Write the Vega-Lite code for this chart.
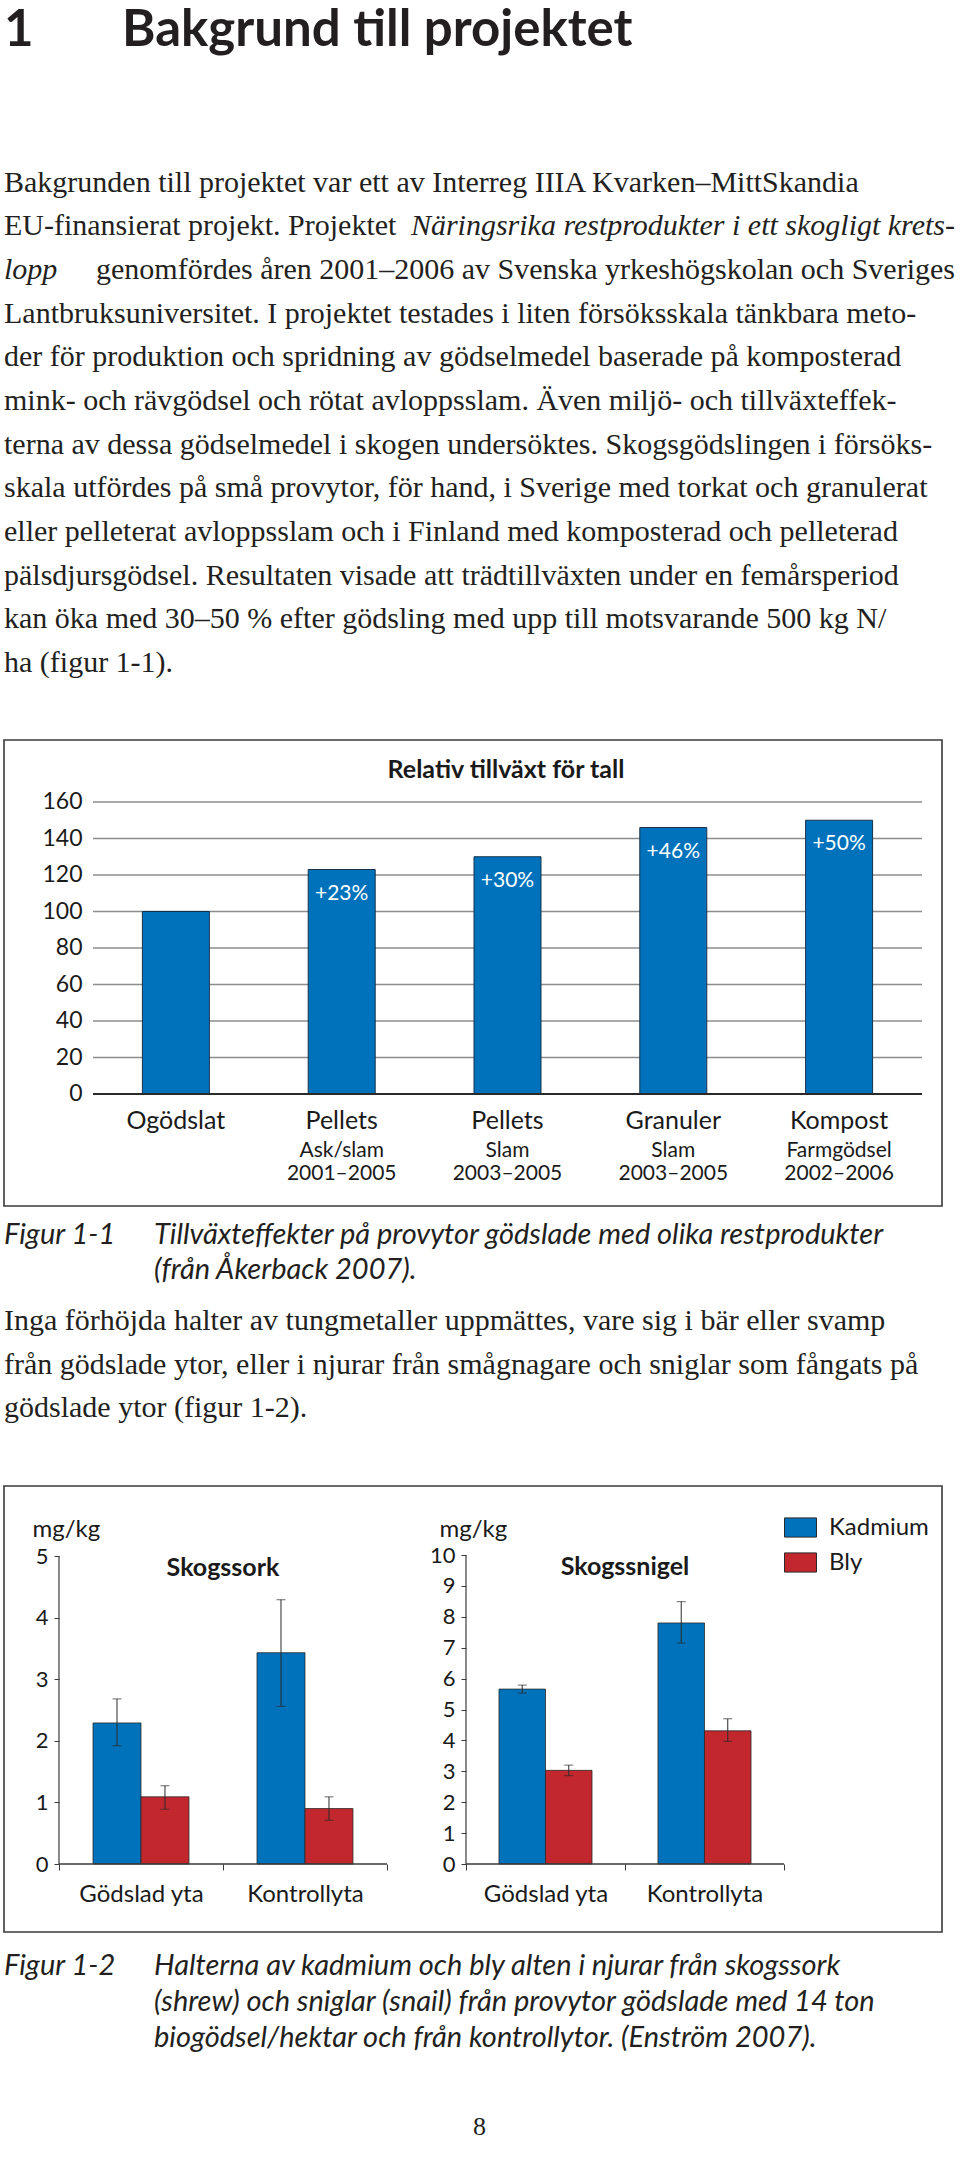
{
  "$schema": "https://vega.github.io/schema/vega-lite/v6.json",
  "background": "#ffffff",
  "padding": {"left": 3, "top": 0, "right": 0, "bottom": 0},
  "spacing": 0,
  "config": {
    "view": {"stroke": null},
    "text": {"font": "Lato"},
    "axis": {"labelFont": "Lato", "titleFont": "Lato"},
    "legend": {"labelFont": "Lato"},
    "title": {"font": "Lato"}
  },
  "vconcat": [
    {
      "width": 951,
      "height": 92,
      "data": {"values": [
        {"del": 1, "text": "1"},
        {"del": 2, "text": "Bakgrund till projektet"}
      ]},
      "mark": {"type": "text", "align": "left", "baseline": "alphabetic", "font": "Lato", "fontWeight": "bold", "fontSize": 51, "color": "#231f20"},
      "encoding": {
        "x": {"field": "del", "type": "quantitative", "scale": {"domain": [1, 9.059], "nice": false, "zero": false}, "axis": null},
        "text": {"field": "text"}
      }
    },
    {
      "width": 951,
      "height": 647,
      "data": {"values": [
        {"rad": 1, "del": 1, "typ": "brödtext", "text": "Bakgrunden till projektet var ett av Interreg IIIA Kvarken–MittSkandia"},
        {"rad": 2, "del": 1, "typ": "brödtext", "text": "EU-finansierat projekt. Projektet"},
        {"rad": 2, "del": 2, "typ": "projektnamn", "text": "Näringsrika restprodukter i ett skogligt krets-"},
        {"rad": 3, "del": 1, "typ": "projektnamn", "text": "lopp"},
        {"rad": 3, "del": 2, "typ": "brödtext", "text": "genomfördes åren 2001–2006 av Svenska yrkeshögskolan och Sveriges"},
        {"rad": 4, "del": 1, "typ": "brödtext", "text": "Lantbruksuniversitet. I projektet testades i liten försöksskala tänkbara meto-"},
        {"rad": 5, "del": 1, "typ": "brödtext", "text": "der för produktion och spridning av gödselmedel baserade på komposterad"},
        {"rad": 6, "del": 1, "typ": "brödtext", "text": "mink- och rävgödsel och rötat avloppsslam. Även miljö- och tillväxteffek-"},
        {"rad": 7, "del": 1, "typ": "brödtext", "text": "terna av dessa gödselmedel i skogen undersöktes. Skogsgödslingen i försöks-"},
        {"rad": 8, "del": 1, "typ": "brödtext", "text": "skala utfördes på små provytor, för hand, i Sverige med torkat och granulerat"},
        {"rad": 9, "del": 1, "typ": "brödtext", "text": "eller pelleterat avloppsslam och i Finland med komposterad och pelleterad"},
        {"rad": 10, "del": 1, "typ": "brödtext", "text": "pälsdjursgödsel. Resultaten visade att trädtillväxten under en femårsperiod"},
        {"rad": 11, "del": 1, "typ": "brödtext", "text": "kan öka med 30–50 % efter gödsling med upp till motsvarande 500 kg N/"},
        {"rad": 12, "del": 1, "typ": "brödtext", "text": "ha (figur 1-1)."}
      ]},
      "encoding": {
        "x": {"field": "del", "type": "quantitative", "scale": {"domain": [1, 2], "nice": false, "zero": false}, "axis": null},
        "y": {"field": "rad", "type": "quantitative", "scale": {"domain": [-1.277, 13.529], "reverse": true, "nice": false, "zero": false}, "axis": null},
        "text": {"field": "text"}
      },
      "layer": [
        {"transform": [{"filter": "datum.del == 1 && datum.typ == 'brödtext'"}], "mark": {"type": "text", "align": "left", "baseline": "alphabetic", "font": "Liberation Serif", "fontSize": 30, "color": "#231f20"}},
        {"transform": [{"filter": "datum.del == 1 && datum.typ == 'projektnamn'"}], "mark": {"type": "text", "align": "left", "baseline": "alphabetic", "font": "Liberation Serif", "fontStyle": "italic", "fontSize": 30, "color": "#231f20"}},
        {"transform": [{"filter": "datum.del == 2 && datum.typ == 'brödtext'"}], "mark": {"type": "text", "align": "right", "baseline": "alphabetic", "font": "Liberation Serif", "fontSize": 30, "color": "#231f20"}},
        {"transform": [{"filter": "datum.del == 2 && datum.typ == 'projektnamn'"}], "mark": {"type": "text", "align": "right", "baseline": "alphabetic", "font": "Liberation Serif", "fontStyle": "italic", "fontSize": 30, "color": "#231f20"}}
      ]
    },
    {
      "width": 938,
      "height": 466,
      "view": {"stroke": "#3a3a3a", "strokeWidth": 1.6},
      "title": {"text": "Relativ tillväxt för tall", "font": "Lato", "fontWeight": "bold", "fontSize": 25, "color": "#1a1a1a", "anchor": "middle", "offset": -55, "baseline": "middle", "dx": 33},
      "data": {"values": [
        {"id": "Ogödslat", "namn": "Ogödslat", "tillväxt": 100},
        {"id": "Pellets Ask/slam", "namn": "Pellets", "material": "Ask/slam", "period": "2001–2005", "tillväxt": 123, "etikett": "+23%"},
        {"id": "Pellets Slam", "namn": "Pellets", "material": "Slam", "period": "2003–2005", "tillväxt": 130, "etikett": "+30%"},
        {"id": "Granuler Slam", "namn": "Granuler", "material": "Slam", "period": "2003–2005", "tillväxt": 146, "etikett": "+46%"},
        {"id": "Kompost Farmgödsel", "namn": "Kompost", "material": "Farmgödsel", "period": "2002–2006", "tillväxt": 150, "etikett": "+50%"}
      ]},
      "layer": [
        {
          "data": {"values": [{"v": 20}, {"v": 40}, {"v": 60}, {"v": 80}, {"v": 100}, {"v": 120}, {"v": 140}, {"v": 160}]},
          "mark": {"type": "rule", "color": "#8c8c8c", "strokeWidth": 1.3},
          "encoding": {
            "y": {"field": "v", "type": "quantitative", "scale": {"domain": [-61.37, 193.97], "nice": false, "zero": false}},
            "x": {"datum": "Ogödslat", "bandPosition": 0, "axis": null},
            "x2": {"datum": "Kompost Farmgödsel", "bandPosition": 1}
          }
        },
        {
          "mark": {"type": "bar", "width": {"band": 0.404}, "color": "#0072BC", "stroke": "#16324a", "strokeWidth": 1},
          "encoding": {
            "x": {"field": "id", "type": "nominal", "sort": null,
              "scale": {"type": "band", "domain": ["Ogödslat", "Pellets Ask/slam", "Pellets Slam", "Granuler Slam", "Kompost Farmgödsel"], "paddingInner": 0, "paddingOuter": 0.3287, "align": 0.8165},
              "axis": null},
            "y": {"field": "tillväxt", "type": "quantitative", "scale": {"domain": [-61.37, 193.97], "nice": false, "zero": false},
              "axis": {"orient": "left", "offset": -89, "values": [0, 20, 40, 60, 80, 100, 120, 140, 160], "domain": false, "ticks": false, "grid": false, "labelFont": "Lato", "labelFontSize": 23, "labelColor": "#1a1a1a", "labelPadding": 11, "title": null}},
            "y2": {"datum": 0}
          }
        },
        {
          "data": {"values": [{}]},
          "mark": {"type": "rule", "color": "#2a2a2a", "strokeWidth": 2},
          "encoding": {
            "y": {"datum": 0},
            "x": {"datum": "Ogödslat", "bandPosition": 0, "axis": null},
            "x2": {"datum": "Kompost Farmgödsel", "bandPosition": 1}
          }
        },
        {
          "transform": [{"filter": "isValid(datum.etikett)"}],
          "mark": {"type": "text", "color": "#ffffff", "font": "Lato", "fontSize": 21, "baseline": "middle", "dy": 24},
          "encoding": {
            "x": {"field": "id", "type": "nominal", "axis": null},
            "y": {"field": "tillväxt", "type": "quantitative"},
            "text": {"field": "etikett"}
          }
        },
        {
          "mark": {"type": "text", "color": "#1a1a1a", "font": "Lato", "fontSize": 25, "baseline": "middle", "dy": 27},
          "encoding": {
            "x": {"field": "id", "type": "nominal", "axis": null},
            "y": {"datum": 0},
            "text": {"field": "namn"}
          }
        },
        {
          "transform": [{"filter": "isValid(datum.material)"}],
          "mark": {"type": "text", "color": "#1a1a1a", "font": "Lato", "fontSize": 21, "baseline": "middle", "dy": 57},
          "encoding": {
            "x": {"field": "id", "type": "nominal", "axis": null},
            "y": {"datum": 0},
            "text": {"field": "material"}
          }
        },
        {
          "transform": [{"filter": "isValid(datum.period)"}],
          "mark": {"type": "text", "color": "#1a1a1a", "font": "Lato", "fontSize": 21, "baseline": "middle", "dy": 80},
          "encoding": {
            "x": {"field": "id", "type": "nominal", "axis": null},
            "y": {"datum": 0},
            "text": {"field": "period"}
          }
        }
      ]
    },
    {
      "width": 951,
      "height": 85,
      "data": {"values": [
        {"rad": 1, "del": 1, "text": "Figur 1-1"},
        {"rad": 1, "del": 2, "text": "Tillväxteffekter på provytor gödslade med olika restprodukter"},
        {"rad": 2, "del": 2, "text": "(från Åkerback 2007)."}
      ]},
      "mark": {"type": "text", "align": "left", "baseline": "alphabetic", "font": "Lato", "fontStyle": "italic", "fontSize": 29, "color": "#231f20"},
      "encoding": {
        "x": {"field": "del", "type": "quantitative", "scale": {"domain": [1, 7.34], "nice": false, "zero": false}, "axis": null},
        "y": {"field": "rad", "type": "quantitative", "scale": {"domain": [-0.057, 2.372], "reverse": true, "nice": false, "zero": false}, "axis": null},
        "text": {"field": "text"}
      }
    },
    {
      "width": 951,
      "height": 193,
      "data": {"values": [
        {"rad": 1, "del": 1, "text": "Inga förhöjda halter av tungmetaller uppmättes, vare sig i bär eller svamp"},
        {"rad": 2, "del": 1, "text": "från gödslade ytor, eller i njurar från smågnagare och sniglar som fångats på"},
        {"rad": 3, "del": 1, "text": "gödslade ytor (figur 1-2)."}
      ]},
      "mark": {"type": "text", "align": "left", "baseline": "alphabetic", "font": "Liberation Serif", "fontSize": 30, "color": "#231f20"},
      "encoding": {
        "x": {"field": "del", "type": "quantitative", "scale": {"domain": [1, 2], "nice": false, "zero": false}, "axis": null},
        "y": {"field": "rad", "type": "quantitative", "scale": {"domain": [0.1304, 4.547], "reverse": true, "nice": false, "zero": false}, "axis": null},
        "text": {"field": "text"}
      }
    },
    {
      "width": 938,
      "height": 446,
      "view": {"stroke": "#3a3a3a", "strokeWidth": 1.6},
      "resolve": {"scale": {"x": "independent", "y": "independent", "xOffset": "independent"}, "axis": {"x": "independent", "y": "independent"}},
      "layer": [
        {
          "data": {"values": [
            {"djur": "Skogssork", "yta": "Gödslad yta", "metall": "Kadmium", "halt": 2.29, "min": 1.92, "max": 2.68},
            {"djur": "Skogssork", "yta": "Gödslad yta", "metall": "Bly", "halt": 1.09, "min": 0.89, "max": 1.27},
            {"djur": "Skogssork", "yta": "Kontrollyta", "metall": "Kadmium", "halt": 3.43, "min": 2.56, "max": 4.29},
            {"djur": "Skogssork", "yta": "Kontrollyta", "metall": "Bly", "halt": 0.9, "min": 0.71, "max": 1.09}
          ]},
          "layer": [
            {
              "mark": {"type": "bar", "stroke": "#2a2a2a", "strokeWidth": 0.8},
              "encoding": {
                "x": {"field": "yta", "type": "nominal", "sort": null,
                  "scale": {"type": "band", "domain": ["Gödslad yta", "Kontrollyta", "(tom 1)", "(tom 2)"], "paddingInner": 0, "paddingOuter": 0.8598, "align": 0.195},
                  "axis": {"orient": "bottom", "offset": -68, "values": ["Gödslad yta", "Kontrollyta"], "domain": false, "ticks": true, "tickBand": "extent", "tickSize": 6, "tickColor": "#3a3a3a", "labelFont": "Lato", "labelFontSize": 24, "labelColor": "#1a1a1a", "labelPadding": 12, "labelAngle": 0, "title": null, "grid": false}},
                "xOffset": {"field": "metall", "type": "nominal", "sort": null, "scale": {"domain": ["Kadmium", "Bly"], "paddingInner": 0, "paddingOuter": 0.709}},
                "y": {"field": "halt", "type": "quantitative", "scale": {"domain": [-1.1039, 6.1364], "nice": false, "zero": false},
                  "axis": {"orient": "left", "offset": -55, "values": [0, 1, 2, 3, 4, 5], "format": "d", "domain": false, "ticks": true, "tickSize": 5, "tickColor": "#3a3a3a", "labelFont": "Lato", "labelFontSize": 22, "labelColor": "#1a1a1a", "labelPadding": 6, "grid": false,
                    "title": "mg/kg", "titleAngle": 0, "titleFont": "Lato", "titleFontWeight": "normal", "titleFontSize": 24, "titleColor": "#1a1a1a", "titleAlign": "left", "titleBaseline": "alphabetic", "titleX": -27, "titleY": 50}},
                "y2": {"datum": 0},
                "color": {"field": "metall", "type": "nominal", "sort": null,
                  "scale": {"domain": ["Kadmium", "Bly"], "range": ["#0072BC", "#C1272D"]},
                  "legend": {"orient": "none", "legendX": 780, "legendY": 1511, "title": null, "labelFont": "Lato", "labelFontSize": 24, "labelColor": "#1a1a1a", "symbolType": "M-1,-0.6H1V0.6H-1Z", "symbolSize": 1024, "symbolStrokeColor": "#2a2a2a", "symbolStrokeWidth": 1, "symbolOpacity": 1, "labelOffset": 12, "rowPadding": 6}}
              }
            },
            {
              "mark": {"type": "rule", "color": "#2a2a2a", "strokeWidth": 1},
              "encoding": {
                "x": {"field": "yta", "type": "nominal"},
                "xOffset": {"field": "metall", "type": "nominal"},
                "y": {"field": "min", "type": "quantitative"},
                "y2": {"field": "max"}
              }
            },
            {
              "mark": {"type": "tick", "color": "#2a2a2a", "thickness": 1, "size": 9},
              "encoding": {
                "x": {"field": "yta", "type": "nominal"},
                "xOffset": {"field": "metall", "type": "nominal"},
                "y": {"field": "min", "type": "quantitative"}
              }
            },
            {
              "mark": {"type": "tick", "color": "#2a2a2a", "thickness": 1, "size": 9},
              "encoding": {
                "x": {"field": "yta", "type": "nominal"},
                "xOffset": {"field": "metall", "type": "nominal"},
                "y": {"field": "max", "type": "quantitative"}
              }
            },
            {
              "data": {"values": [{}]},
              "mark": {"type": "rule", "color": "#3a3a3a", "strokeWidth": 1.2},
              "encoding": {
                "x": {"datum": "Gödslad yta", "bandPosition": 0},
                "y": {"datum": 0},
                "y2": {"datum": 5}
              }
            },
            {
              "data": {"values": [{}]},
              "mark": {"type": "rule", "color": "#3a3a3a", "strokeWidth": 1.4},
              "encoding": {
                "y": {"datum": 0},
                "x": {"datum": "Gödslad yta", "bandPosition": 0},
                "x2": {"datum": "Kontrollyta", "bandPosition": 1}
              }
            },
            {
              "data": {"values": [{"rubrik": "Skogssork"}]},
              "mark": {"type": "text", "font": "Lato", "fontWeight": "bold", "fontSize": 25, "color": "#1a1a1a", "baseline": "top", "align": "center"},
              "encoding": {
                "x": {"datum": "Kontrollyta", "bandPosition": 0},
                "y": {"datum": 5},
                "text": {"field": "rubrik"}
              }
            }
          ]
        },
        {
          "data": {"values": [
            {"djur": "Skogssnigel", "yta": "Gödslad yta", "metall": "Kadmium", "halt": 5.66, "min": 5.53, "max": 5.79},
            {"djur": "Skogssnigel", "yta": "Gödslad yta", "metall": "Bly", "halt": 3.03, "min": 2.86, "max": 3.2},
            {"djur": "Skogssnigel", "yta": "Kontrollyta", "metall": "Kadmium", "halt": 7.8, "min": 7.15, "max": 8.49},
            {"djur": "Skogssnigel", "yta": "Kontrollyta", "metall": "Bly", "halt": 4.31, "min": 3.97, "max": 4.7}
          ]},
          "layer": [
            {
              "mark": {"type": "bar", "stroke": "#2a2a2a", "strokeWidth": 0.8},
              "encoding": {
                "x": {"field": "yta", "type": "nominal", "sort": null,
                  "scale": {"type": "band", "domain": ["(tom 1)", "(tom 2)", "Gödslad yta", "Kontrollyta"], "paddingInner": 0, "paddingOuter": 0.9497, "align": 0.4768},
                  "axis": {"orient": "bottom", "offset": -68, "values": ["Gödslad yta", "Kontrollyta"], "domain": false, "ticks": true, "tickBand": "extent", "tickSize": 6, "tickColor": "#3a3a3a", "labelFont": "Lato", "labelFontSize": 24, "labelColor": "#1a1a1a", "labelPadding": 12, "labelAngle": 0, "title": null, "grid": false}},
                "xOffset": {"field": "metall", "type": "nominal", "sort": null, "scale": {"domain": ["Kadmium", "Bly"], "paddingInner": 0, "paddingOuter": 0.709}},
                "y": {"field": "halt", "type": "quantitative", "scale": {"domain": [-2.2006, 12.233], "nice": false, "zero": false},
                  "axis": {"orient": "left", "offset": -462, "values": [0, 1, 2, 3, 4, 5, 6, 7, 8, 9, 10], "format": "d", "domain": false, "ticks": true, "tickSize": 5, "tickColor": "#3a3a3a", "labelFont": "Lato", "labelFontSize": 22, "labelColor": "#1a1a1a", "labelPadding": 6, "grid": false,
                    "title": "mg/kg", "titleAngle": 0, "titleFont": "Lato", "titleFontWeight": "normal", "titleFontSize": 24, "titleColor": "#1a1a1a", "titleAlign": "left", "titleBaseline": "alphabetic", "titleX": -27, "titleY": 50}},
                "y2": {"datum": 0},
                "color": {"field": "metall", "type": "nominal", "sort": null, "scale": {"domain": ["Kadmium", "Bly"], "range": ["#0072BC", "#C1272D"]}}
              }
            },
            {
              "mark": {"type": "rule", "color": "#2a2a2a", "strokeWidth": 1},
              "encoding": {
                "x": {"field": "yta", "type": "nominal"},
                "xOffset": {"field": "metall", "type": "nominal"},
                "y": {"field": "min", "type": "quantitative"},
                "y2": {"field": "max"}
              }
            },
            {
              "mark": {"type": "tick", "color": "#2a2a2a", "thickness": 1, "size": 9},
              "encoding": {
                "x": {"field": "yta", "type": "nominal"},
                "xOffset": {"field": "metall", "type": "nominal"},
                "y": {"field": "min", "type": "quantitative"}
              }
            },
            {
              "mark": {"type": "tick", "color": "#2a2a2a", "thickness": 1, "size": 9},
              "encoding": {
                "x": {"field": "yta", "type": "nominal"},
                "xOffset": {"field": "metall", "type": "nominal"},
                "y": {"field": "max", "type": "quantitative"}
              }
            },
            {
              "data": {"values": [{}]},
              "mark": {"type": "rule", "color": "#3a3a3a", "strokeWidth": 1.2},
              "encoding": {
                "x": {"datum": "Gödslad yta", "bandPosition": 0},
                "y": {"datum": 0},
                "y2": {"datum": 10}
              }
            },
            {
              "data": {"values": [{}]},
              "mark": {"type": "rule", "color": "#3a3a3a", "strokeWidth": 1.4},
              "encoding": {
                "y": {"datum": 0},
                "x": {"datum": "Gödslad yta", "bandPosition": 0},
                "x2": {"datum": "Kontrollyta", "bandPosition": 1}
              }
            },
            {
              "data": {"values": [{"rubrik": "Skogssnigel"}]},
              "mark": {"type": "text", "font": "Lato", "fontWeight": "bold", "fontSize": 25, "color": "#1a1a1a", "baseline": "top", "align": "center"},
              "encoding": {
                "x": {"datum": "Kontrollyta", "bandPosition": 0},
                "y": {"datum": 10},
                "text": {"field": "rubrik"}
              }
            }
          ]
        }
      ]
    },
    {
      "width": 951,
      "height": 171,
      "data": {"values": [
        {"rad": 1, "del": 1, "text": "Figur 1-2"},
        {"rad": 1, "del": 2, "text": "Halterna av kadmium och bly alten i njurar från skogssork"},
        {"rad": 2, "del": 2, "text": "(shrew) och sniglar (snail) från provytor gödslade med 14 ton"},
        {"rad": 3, "del": 2, "text": "biogödsel/hektar och från kontrollytor. (Enström 2007)."}
      ]},
      "mark": {"type": "text", "align": "left", "baseline": "alphabetic", "font": "Lato", "fontStyle": "italic", "fontSize": 29, "color": "#231f20"},
      "encoding": {
        "x": {"field": "del", "type": "quantitative", "scale": {"domain": [1, 7.34], "nice": false, "zero": false}, "axis": null},
        "y": {"field": "rad", "type": "quantitative", "scale": {"domain": [-0.1667, 4.583], "reverse": true, "nice": false, "zero": false}, "axis": null},
        "text": {"field": "text"}
      }
    },
    {
      "width": 951,
      "height": 62,
      "data": {"values": [{"sida": "8"}]},
      "mark": {"type": "text", "font": "Liberation Serif", "fontSize": 26, "baseline": "alphabetic", "align": "center", "color": "#231f20"},
      "encoding": {"text": {"field": "sida"}}
    }
  ]
}
